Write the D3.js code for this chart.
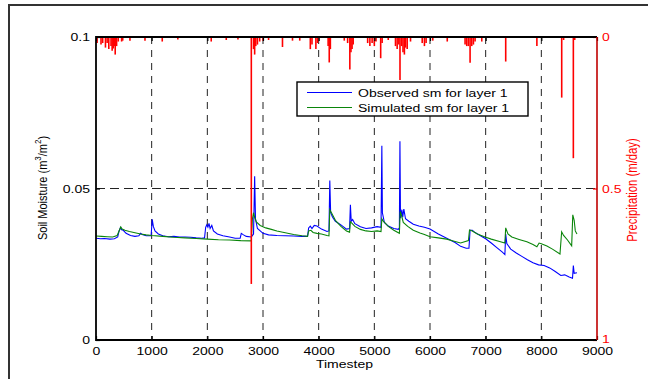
<!DOCTYPE html>
<html>
<head>
<meta charset="utf-8">
<script src="https://cdn.jsdelivr.net/npm/d3@7"></script>
<style>
  html, body { margin: 0; padding: 0; background: #fff; }
  svg text { font-family: "Liberation Sans", Arial, Helvetica, sans-serif; }
</style>
</head>
<body>
<div id="chart"></div>
<script>
// observed soil moisture, layer 1 (timestep, m3/m2)
const observed = [
  [0,0.0336],[80,0.0334],[150,0.0335],[250,0.0333],[330,0.0334],[390,0.0340],[415,0.0360],[440,0.0371],[460,0.0364],[490,0.0362],
  [540,0.0352],[620,0.0345],[700,0.0342],[770,0.0344],[800,0.0352],[830,0.0348],[900,0.0344],[990,0.0344],[1010,0.0398],[1030,0.0375],
  [1060,0.0360],[1120,0.0350],[1200,0.0344],[1300,0.0341],[1400,0.0342],[1500,0.0340],[1600,0.0340],[1700,0.0339],[1800,0.0337],[1900,0.0336],
  [1950,0.0337],[1970,0.0372],[1990,0.0380],[2010,0.0372],[2030,0.0385],[2050,0.0368],[2080,0.0378],[2110,0.0360],[2180,0.0350],[2280,0.0344],
  [2400,0.0340],[2500,0.0336],[2590,0.0336],[2610,0.0352],[2650,0.0347],[2700,0.0342],[2790,0.0340],[2830,0.0350],[2850,0.0540],[2865,0.0400],
  [2900,0.0368],[2950,0.0360],[3000,0.0352],[3100,0.0347],[3250,0.0345],[3400,0.0344],[3550,0.0343],[3700,0.0342],[3800,0.0342],[3820,0.0370],
  [3850,0.0376],[3880,0.0368],[3920,0.0378],[3970,0.0376],[4050,0.0366],[4150,0.0358],[4185,0.0360],[4200,0.0526],[4215,0.0420],[4250,0.0405],
  [4300,0.0392],[4400,0.0380],[4500,0.0366],[4555,0.0368],[4570,0.0446],[4585,0.0392],[4610,0.0398],[4650,0.0384],[4750,0.0374],[4850,0.0368],
  [4950,0.0370],[5050,0.0374],[5120,0.0372],[5135,0.0641],[5145,0.0420],[5180,0.0388],[5250,0.0376],[5350,0.0368],[5430,0.0365],[5450,0.0370],
  [5460,0.0656],[5470,0.0402],[5495,0.0430],[5510,0.0405],[5530,0.0432],[5560,0.0400],[5620,0.0392],[5700,0.0382],[5800,0.0376],[5900,0.0372],
  [6000,0.0366],[6150,0.0350],[6300,0.0336],[6450,0.0322],[6550,0.0309],[6650,0.0303],[6700,0.0303],[6720,0.0362],[6760,0.0362],[6800,0.0356],
  [6900,0.0345],[7000,0.0334],[7100,0.0320],[7200,0.0305],[7300,0.0290],[7345,0.0282],[7360,0.0350],[7380,0.0318],[7450,0.0300],[7550,0.0287],
  [7650,0.0276],[7750,0.0265],[7850,0.0255],[7950,0.0248],[8050,0.0246],[8150,0.0238],[8250,0.0226],[8350,0.0213],[8420,0.0215],[8500,0.0208],
  [8560,0.0204],[8575,0.0246],[8590,0.0220],[8640,0.0222]
];

// simulated soil moisture, layer 1
const simulated = [
  [0,0.0343],[100,0.0342],[200,0.0341],[300,0.0340],[380,0.0345],[420,0.0362],[445,0.0373],[470,0.0366],[520,0.0362],[600,0.0358],
  [700,0.0354],[800,0.0350],[900,0.0347],[1000,0.0345],[1200,0.0342],[1400,0.0339],[1600,0.0337],[1800,0.0335],[2000,0.0333],[2200,0.0331],
  [2400,0.0330],[2600,0.0328],[2790,0.0327],[2810,0.0400],[2830,0.0420],[2850,0.0405],[2880,0.0390],[2950,0.0378],[3050,0.0370],[3150,0.0365],
  [3250,0.0360],[3400,0.0354],[3550,0.0348],[3700,0.0344],[3800,0.0342],[3820,0.0360],[3860,0.0362],[3900,0.0355],[3970,0.0352],[4050,0.0350],
  [4150,0.0345],[4185,0.0344],[4200,0.0430],[4230,0.0420],[4300,0.0395],[4400,0.0375],[4500,0.0360],[4555,0.0356],[4570,0.0390],[4600,0.0385],
  [4650,0.0375],[4750,0.0365],[4850,0.0360],[4950,0.0358],[5050,0.0360],[5120,0.0358],[5135,0.0400],[5160,0.0392],[5250,0.0375],[5350,0.0362],
  [5450,0.0352],[5465,0.0424],[5490,0.0410],[5520,0.0388],[5600,0.0375],[5700,0.0362],[5820,0.0353],[5900,0.0348],[6000,0.0341],[6150,0.0337],
  [6300,0.0333],[6450,0.0325],[6550,0.0320],[6690,0.0328],[6710,0.0363],[6760,0.0360],[6850,0.0350],[6990,0.0340],[7100,0.0333],[7250,0.0325],
  [7345,0.0320],[7360,0.0370],[7400,0.0350],[7470,0.0340],[7600,0.0332],[7740,0.0324],[7850,0.0315],[7920,0.0308],[7960,0.0320],[8000,0.0318],
  [8100,0.0310],[8200,0.0300],[8335,0.0284],[8365,0.0357],[8400,0.0345],[8470,0.0330],[8545,0.0311],[8565,0.0413],[8590,0.0395],[8610,0.0360],
  [8640,0.0350]
];

// precipitation events (timestep, m/day)
const precip = [
  [20,0.02],[90,0.025],[120,0.02],[170,0.035],[200,0.02],[230,0.04],[270,0.03],[290,0.045],[310,0.038],[330,0.03],
  [345,0.058],[370,0.03],[400,0.015],[460,0.015],[480,0.012],[610,0.012],[880,0.012],[1190,0.015],[1470,0.008],[2070,0.015],
  [2340,0.01],[2550,0.008],[2790,0.815],[2830,0.04],[2850,0.058],[2870,0.03],[2900,0.025],[2940,0.015],[3000,0.012],[3100,0.01],
  [3350,0.033],[3530,0.012],[3660,0.012],[3850,0.04],[3880,0.025],[3950,0.04],[3980,0.02],[4170,0.03],[4190,0.084],[4210,0.04],
  [4460,0.012],[4520,0.02],[4560,0.107],[4580,0.05],[4600,0.04],[4620,0.025],[4880,0.02],[4920,0.03],[4960,0.02],[5000,0.03],
  [5030,0.015],[5114,0.07],[5140,0.02],[5250,0.01],[5380,0.03],[5410,0.04],[5440,0.025],[5461,0.142],[5490,0.03],[5515,0.05],
  [5540,0.058],[5560,0.035],[5590,0.04],[5650,0.015],[5860,0.02],[5900,0.03],[5930,0.02],[6050,0.012],[6310,0.015],[6630,0.025],
  [6660,0.03],[6690,0.03],[6720,0.085],[6750,0.03],[6780,0.025],[6810,0.015],[6930,0.015],[7360,0.081],[7920,0.03],[8366,0.2],
  [8400,0.01],[8575,0.4],[8600,0.01]
];

const xTicks = [0,1000,2000,3000,4000,5000,6000,7000,8000,9000];
const yTicks = [0,0.05,0.1];
const rTicks = [0,0.5,1];
const legendNames = ['Observed sm for layer 1', 'Simulated sm for layer 1'];

const width = 648, height = 379;
const plotLeft = 96, plotRight = 597, plotTop = 37, plotBottom = 340;
const sx = 1.22; // text in the picture is a bit wider than tall

const svg = d3.select('#chart').append('svg')
  .attr('width', width)
  .attr('height', height);

// figure frame (only left/top edges are visible)
svg.append('rect')
  .attr('x', 9).attr('y', 5)
  .attr('width', 700).attr('height', 400)
  .attr('fill', 'none').attr('stroke', '#333').attr('stroke-width', 2);

const xScale = d3.scaleLinear().domain([0, 9000]).range([plotLeft, plotRight]);
const yScale = d3.scaleLinear().domain([0, 0.1]).range([plotBottom, plotTop]);
const pScale = d3.scaleLinear().domain([0, 1]).range([plotTop, plotBottom]);

// dashed grid
svg.append('g').selectAll('line')
  .data(xTicks.slice(1, -1))
  .join('line')
  .attr('x1', d => xScale(d)).attr('x2', d => xScale(d))
  .attr('y1', plotTop).attr('y2', plotBottom)
  .attr('stroke', '#222').attr('stroke-width', 1).attr('stroke-dasharray', '7,6');
svg.append('g').selectAll('line')
  .data([0.05])
  .join('line')
  .attr('x1', plotLeft).attr('x2', plotRight)
  .attr('y1', d => yScale(d)).attr('y2', d => yScale(d))
  .attr('stroke', '#222').attr('stroke-width', 1).attr('stroke-dasharray', '9,5');

const line = d3.line().x(d => xScale(d[0])).y(d => yScale(d[1]));

svg.append('path').datum(observed)
  .attr('d', line).attr('fill', 'none')
  .attr('stroke', '#0000ff').attr('stroke-width', 1.1);
svg.append('path').datum(simulated)
  .attr('d', line).attr('fill', 'none')
  .attr('stroke', '#0a850a').attr('stroke-width', 1.1);

// precipitation hangs from the top
svg.append('g').selectAll('line')
  .data(precip)
  .join('line')
  .attr('x1', d => xScale(d[0])).attr('x2', d => xScale(d[0]))
  .attr('y1', pScale(0)).attr('y2', d => pScale(d[1]))
  .attr('stroke', '#ff0000').attr('stroke-width', 1.6);

function stretchText(g) {
  g.selectAll('text').each(function () {
    const t = d3.select(this);
    const x = +t.attr('x') || 0;
    t.attr('transform', `translate(${x},0) scale(${sx},1)`).attr('x', 0);
  });
}

const fontSize = '11.5px';

const xAxis = svg.append('g')
  .attr('transform', `translate(0,${plotBottom})`)
  .call(d3.axisBottom(xScale).tickValues(xTicks).tickFormat(d3.format('d')).tickSize(-4).tickPadding(7));
const xTopAxis = svg.append('g')
  .attr('transform', `translate(0,${plotTop})`)
  .call(d3.axisTop(xScale).tickValues(xTicks).tickFormat('').tickSize(-4));
const yAxis = svg.append('g')
  .attr('transform', `translate(${plotLeft},0)`)
  .call(d3.axisLeft(yScale).tickValues(yTicks).tickFormat(d => d === 0 ? '0' : String(d)).tickSize(-4).tickPadding(6));
const pAxis = svg.append('g')
  .attr('transform', `translate(${plotRight},0)`)
  .call(d3.axisRight(pScale).tickValues(rTicks).tickFormat(d => String(d)).tickSize(-4).tickPadding(5));

[xAxis, xTopAxis, yAxis, pAxis].forEach(g => {
  g.select('.domain').remove();
  g.selectAll('text').attr('font-size', fontSize).attr('font-family', null);
  g.selectAll('line').attr('stroke-width', 1.2);
});
[xAxis, xTopAxis, yAxis].forEach(g => g.selectAll('text').attr('fill', '#000'));
pAxis.selectAll('line').attr('stroke', '#ff0000');
pAxis.selectAll('text').attr('fill', '#ff0000');
// the bottom "1" sits just above the 9000 label
pAxis.selectAll('.tick').filter(d => d === 1).select('text').attr('dy', '0.2em');
stretchText(xAxis);
yAxis.selectAll('text').attr('x', -6 / sx).attr('transform', `scale(${sx},1)`);
pAxis.selectAll('text').attr('x', 5 / sx).attr('transform', `scale(${sx},1)`);

// axes box
svg.append('path')
  .attr('d', `M${plotRight},${plotTop}H${plotLeft}V${plotBottom}H${plotRight}`)
  .attr('fill', 'none').attr('stroke', '#000').attr('stroke-width', 1.8);
svg.append('line')
  .attr('x1', plotRight).attr('x2', plotRight).attr('y1', plotTop).attr('y2', plotBottom)
  .attr('stroke', '#c00000').attr('stroke-width', 1.6);

// axis titles
svg.append('g')
  .attr('transform', `translate(${(plotLeft + plotRight) / 2 - 2},368) scale(${sx},1)`)
  .append('text')
  .attr('text-anchor', 'middle').attr('font-size', fontSize)
  .text('Timestep');

const yl = svg.append('g')
  .attr('transform', `translate(47,188) scale(${sx},1) rotate(-90)`)
  .append('text')
  .attr('text-anchor', 'middle').attr('font-size', '11px');
yl.append('tspan').text('Soil Moisture (m');
yl.append('tspan').attr('font-size', '8px').attr('dy', -5).text('3');
yl.append('tspan').attr('dy', 5).text('/m');
yl.append('tspan').attr('font-size', '8px').attr('dy', -5).text('2');
yl.append('tspan').attr('dy', 5).text(')');

svg.append('g')
  .attr('transform', `translate(637,190) scale(${sx},1) rotate(-90)`)
  .append('text')
  .attr('text-anchor', 'middle').attr('font-size', '11.3px').attr('fill', '#ff0000')
  .text('Precipitation (m/day)');

// legend
const legend = svg.append('g');
legend.append('rect')
  .attr('x', 297).attr('y', 82).attr('width', 231).attr('height', 34)
  .attr('fill', '#fff').attr('stroke', '#000').attr('stroke-width', 1.4);
const legendColors = ['#0000ff', '#0a850a'];
legendNames.forEach((name, i) => {
  const ly = 92.5 + i * 15;
  legend.append('line')
    .attr('x1', 307).attr('x2', 352).attr('y1', ly).attr('y2', ly)
    .attr('stroke', legendColors[i]).attr('stroke-width', 1.1);
  legend.append('g')
    .attr('transform', `translate(358,${ly + 4}) scale(${sx},1)`)
    .append('text')
    .attr('font-size', fontSize)
    .text(name);
});
</script>
</body>
</html>
